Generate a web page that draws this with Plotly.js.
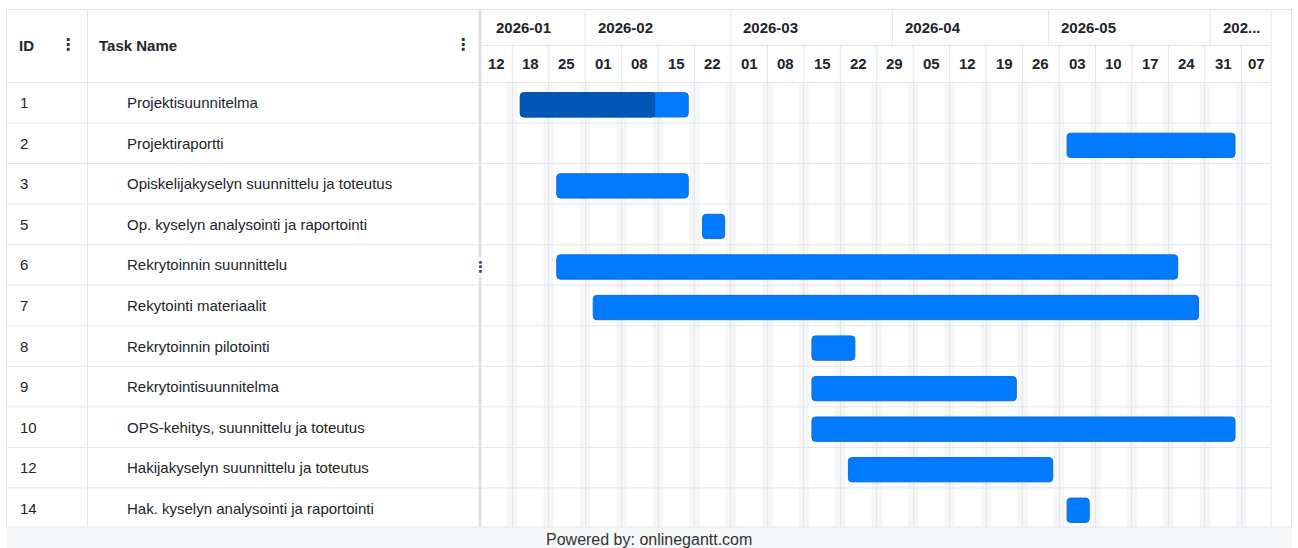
<!DOCTYPE html>
<html>
<head>
<meta charset="utf-8">
<script src="https://cdn.plot.ly/plotly-3.0.1.min.js"></script>
<style>
  html, body { margin: 0; padding: 0; background: #ffffff; }
  #chart { width: 1298px; height: 548px; }
</style>
</head>
<body>
<div id="chart"></div>
<script>
// ---------- data ----------
const taskIds = ['1', '2', '3', '5', '6', '7', '8', '9', '10', '12', '14'];
const taskNames = [
  'Projektisuunnitelma',
  'Projektiraportti',
  'Opiskelijakyselyn suunnittelu ja toteutus',
  'Op. kyselyn analysointi ja raportointi',
  'Rekrytoinnin suunnittelu',
  'Rekytointi materiaalit',
  'Rekrytoinnin pilotointi',
  'Rekrytointisuunnitelma',
  'OPS-kehitys, suunnittelu ja toteutus',
  'Hakijakyselyn suunnittelu ja toteutus',
  'Hak. kyselyn analysointi ja raportointi'
];
const taskStarts = ['2026-01-19', '2026-05-04', '2026-01-26', '2026-02-23', '2026-01-26', '2026-02-02',
                    '2026-03-16', '2026-03-16', '2026-03-16', '2026-03-23', '2026-05-04'];
const taskEnds = ['2026-02-20', '2026-06-05', '2026-02-20', '2026-02-27', '2026-05-25', '2026-05-29',
                  '2026-03-24', '2026-04-24', '2026-06-05', '2026-05-01', '2026-05-08']; // inclusive
const taskProgress = [80, 0, 0, 0, 0, 0, 0, 0, 0, 0, 0];

const weekStarts = ['2026-01-12', '2026-01-18', '2026-01-25', '2026-02-01', '2026-02-08', '2026-02-15',
                    '2026-02-22', '2026-03-01', '2026-03-08', '2026-03-15', '2026-03-22', '2026-03-29',
                    '2026-04-05', '2026-04-12', '2026-04-19', '2026-04-26', '2026-05-03', '2026-05-10',
                    '2026-05-17', '2026-05-24', '2026-05-31', '2026-06-07'];
const weekLabels = ['12', '18', '25', '01', '08', '15', '22', '01', '08', '15', '22', '29',
                    '05', '12', '19', '26', '03', '10', '17', '24', '31', '07'];
const monthStarts = ['2026-01-12', '2026-02-01', '2026-03-01', '2026-04-01', '2026-05-01', '2026-06-01'];
const monthLabels = ['2026-01', '2026-02', '2026-03', '2026-04', '2026-05', '202...'];
const viewStart = '2026-01-12';
const viewEnd = '2026-06-12T17:00:00';
const footerText = 'Powered by: onlinegantt.com';

// ---------- helpers ----------
const W = 1298, H = 548;
const DAY = 864e5;
const px = x => x / W;
const py = y => 1 - y / H;
const ms = s => new Date(s + (s.length === 10 ? 'T00:00:00Z' : 'Z')).getTime();
const iso = t => new Date(t).toISOString().replace('Z', '');

const TOP = 82.5, BOTTOM = 528.5, LEFT = 481, RIGHT = 1271;
const BORDER = '#e2e5e9';
const GRID = '#e4e7eb';
const TEXT = '#212529';
const FONT = 'Liberation Sans, Arial, sans-serif';

// bar geometry (visual inset of bars inside their day cells)
const insetL = 0.55 * DAY, insetR = 0.2 * DAY;
const rows = taskIds.map((id, i) => i);
const barBase = [], barLen = [], progLen = [], progMidBase = [], progHalf = [];
taskStarts.forEach((s, i) => {
  const b = ms(s) + insetL;
  const e = ms(taskEnds[i]) + DAY - insetR;
  barBase.push(iso(b));
  barLen.push(e - b);
  const p = (e - b) * taskProgress[i] / 100;
  progLen.push(p > 0 ? p : null);
  progMidBase.push(iso(b + p / 2));
  progHalf.push(p > 0 ? p / 2 : null);
});

const barWidth = 0.6;
const barOffset = -barWidth / 2 + 0.05;

const traces = [
  {
    type: 'bar', orientation: 'h', y: rows, x: barLen, base: barBase,
    width: barWidth, offset: barOffset,
    marker: { color: '#007bff', cornerradius: 4, line: { color: '#0a6edb', width: 1 } },
    hoverinfo: 'skip', showlegend: false
  },
  {
    type: 'bar', orientation: 'h', y: rows, x: progLen, base: barBase,
    width: barWidth, offset: barOffset,
    marker: { color: '#0056b3', cornerradius: 4, line: { color: '#0050a8', width: 1 } },
    hoverinfo: 'skip', showlegend: false
  },
  {
    type: 'bar', orientation: 'h', y: rows, x: progHalf, base: progMidBase,
    width: barWidth - 0.02, offset: barOffset + 0.01,
    marker: { color: '#0056b3', cornerradius: 0, line: { width: 0 } },
    hoverinfo: 'skip', showlegend: false
  }
];

// ---------- shapes ----------
const shapes = [];
const hline = (x0, x1, y, color, w) => shapes.push({ type: 'line', xref: 'paper', yref: 'paper',
  x0: px(x0), x1: px(x1), y0: py(y), y1: py(y), line: { color: color || BORDER, width: w || 1 } });
const vline = (x, y0, y1, color, w) => shapes.push({ type: 'line', xref: 'paper', yref: 'paper',
  x0: px(x), x1: px(x), y0: py(y0), y1: py(y1), line: { color: color || BORDER, width: w || 1 } });

// footer background
shapes.push({ type: 'rect', xref: 'paper', yref: 'paper', x0: px(6), x1: px(1292), y0: py(548), y1: py(527),
  fillcolor: '#f6f7f9', line: { width: 0 }, layer: 'above' });

// weekend bands (Sat + Sun)
weekStarts.slice(1).forEach(w => {
  shapes.push({ type: 'rect', xref: 'x', yref: 'paper', x0: iso(ms(w) - DAY), x1: iso(ms(w) + DAY),
    y0: py(527), y1: py(TOP), fillcolor: '#f5f6f8', line: { width: 0 }, layer: 'below' });
});

// outer borders
hline(6, 1292, 9.5);
hline(6, 1292, 527);
vline(6.5, 9, 527);
vline(1291.5, 9, 527);
vline(RIGHT, 9, 527);
// header lines
hline(LEFT, RIGHT, 45.5);
hline(6, RIGHT, 82.5);
vline(87.5, 9, 527);
// row separators
rows.forEach(i => {
  if (i === 0) return;
  shapes.push({ type: 'line', xref: 'paper', yref: 'y', x0: px(6), x1: px(RIGHT), y0: i - 0.5, y1: i - 0.5,
    line: { color: BORDER, width: 1 } });
});
// month separators in header
monthStarts.slice(1).forEach(m => {
  shapes.push({ type: 'line', xref: 'x', yref: 'paper', x0: m, x1: m, y0: py(45.5), y1: py(9.5),
    line: { color: BORDER, width: 1 } });
});
// week separators in header
weekStarts.slice(1).forEach(w => {
  shapes.push({ type: 'line', xref: 'x', yref: 'paper', x0: w, x1: w, y0: py(82.5), y1: py(45.5),
    line: { color: BORDER, width: 1 } });
});
// splitter between table and timeline
shapes.push({ type: 'rect', xref: 'paper', yref: 'paper', x0: px(478.5), x1: px(481.5), y0: py(527), y1: py(9.5),
  fillcolor: '#dde1e6', line: { width: 0 } });

// ---------- annotations ----------
const annotations = [];
const headFont = { family: FONT, size: 15, color: TEXT, weight: 'bold' };
const cellFont = { family: FONT, size: 15, color: TEXT };

annotations.push({ xref: 'paper', yref: 'paper', x: px(17), y: py(46), xanchor: 'left', yanchor: 'middle',
  text: '<b>ID</b>', showarrow: false, font: headFont });
annotations.push({ xref: 'paper', yref: 'paper', x: px(97), y: py(46), xanchor: 'left', yanchor: 'middle',
  text: '<b>Task Name</b>', showarrow: false, font: headFont });
[67.5, 462.5].forEach(x => annotations.push({ xref: 'paper', yref: 'paper', x: px(x), y: py(45), xanchor: 'center',
  yanchor: 'middle', text: '<b>⋮</b>', showarrow: false, font: { family: 'DejaVu Sans', size: 16, color: '#333' } }));
annotations.push({ xref: 'paper', yref: 'paper', x: px(480.5), y: py(267), xanchor: 'center', yanchor: 'middle',
  text: '<b>⋮</b>', showarrow: false, bgcolor: '#ffffff', borderpad: 0,
  font: { family: 'DejaVu Sans', size: 15, color: '#444' } });

rows.forEach(i => {
  annotations.push({ xref: 'paper', yref: 'y', x: px(17.5), y: i, xanchor: 'left', yanchor: 'middle',
    text: taskIds[i], showarrow: false, font: cellFont });
  annotations.push({ xref: 'paper', yref: 'y', x: px(125), y: i, xanchor: 'left', yanchor: 'middle',
    text: taskNames[i], showarrow: false, font: cellFont });
});

// month labels
monthStarts.forEach((m, i) => {
  const shift = i === 0 ? 13 : 10.5;
  annotations.push({ xref: 'x', yref: 'paper', x: m, xshift: shift, y: py(27.5), xanchor: 'left', yanchor: 'middle',
    text: '<b>' + monthLabels[i] + '</b>', showarrow: false, font: headFont });
});
// week labels centered in their columns
const endMs = ms(viewEnd);
weekStarts.forEach((w, i) => {
  const a = ms(w);
  const b = i < weekStarts.length - 1 ? ms(weekStarts[i + 1]) : endMs;
  annotations.push({ xref: 'x', yref: 'paper', x: iso((a + b) / 2), y: py(64), xanchor: 'center', yanchor: 'middle',
    text: '<b>' + weekLabels[i] + '</b>', showarrow: false, font: headFont });
});

annotations.push({ xref: 'paper', yref: 'paper', x: px(649), y: py(539), xanchor: 'center', yanchor: 'middle',
  text: footerText, showarrow: false, font: { family: FONT, size: 16, color: '#333' } });

const layout = {
  width: W, height: H,
  margin: { l: 0, r: 0, t: 0, b: 0 },
  paper_bgcolor: '#ffffff', plot_bgcolor: 'rgba(0,0,0,0)',
  barmode: 'overlay', bargap: 0,
  showlegend: false,
  xaxis: {
    type: 'date', domain: [px(LEFT), px(RIGHT)], range: [viewStart, viewEnd],
    showgrid: true, gridcolor: GRID, gridwidth: 1, tick0: '2026-01-18', dtick: 7 * DAY,
    showticklabels: false, ticks: '', zeroline: false, showline: false, fixedrange: true
  },
  yaxis: {
    type: 'linear', domain: [py(BOTTOM), py(TOP)], range: [taskIds.length - 0.5, -0.5],
    showgrid: false, showticklabels: false, ticks: '', zeroline: false, showline: false, fixedrange: true
  },
  shapes: shapes,
  annotations: annotations
};

Plotly.newPlot('chart', traces, layout, { staticPlot: true, displayModeBar: false });
</script>
</body>
</html>
